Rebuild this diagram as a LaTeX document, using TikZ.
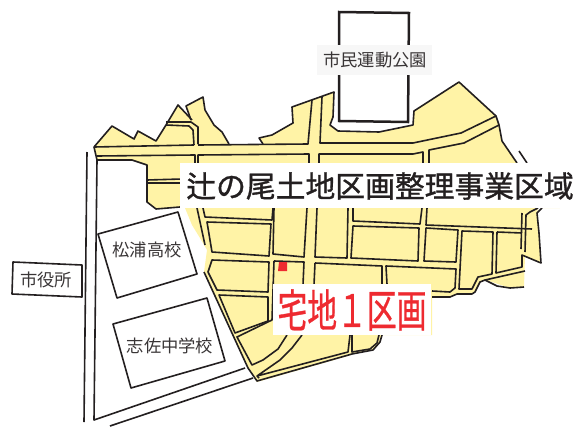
\documentclass[tikz,border=0pt]{standalone}
\usepackage{fontspec}
\usepackage{graphicx}
\setmainfont{Noto Sans CJK JP}
\newfontfamily\titlefont[FakeBold=1.1]{Noto Sans CJK JP}
\newfontfamily\lotfont[FakeBold=0.7]{Noto Sans CJK JP}
\definecolor{ink}{HTML}{231F20}
\definecolor{landfill}{HTML}{FFF3A6}
\definecolor{redmark}{HTML}{EE2A30}
\tikzset{
  road/.style={draw=ink,line width=1.6pt,line join=round},
  thick road/.style={draw=ink,line width=2.5pt,line join=miter},
  label small/.style={text=ink!90,font=\fontsize{17.3}{18}\selectfont,inner sep=0pt}
}
\begin{document}
\begin{tikzpicture}[x=1pt,y=-1pt]
\useasboundingbox (0,0) rectangle (576,426);
% yellow land
\fill[landfill] (94,147)--(112,126)--(134,139)--(138,131)--(156,141)--(166,125)--(178,105)--(192,120)--(186,106)--(203,97)--(205,110)--(214,125)--(222,132)--(229,144)--(263,144)--(259,138)--(272,135)--(293,123)--(292,107)--(334,92)--(333,117)--(330,125)--(338,131)--(379,132)--(413,125)--(414,111)--(459,82)--(496,116)--(499,125)--(502,141)--(517,163)--(560,163)--(560,208)--(538,208)--(537,213)--(539,233)--(541,263)--(525,256)--(524,287)--(510,288)--(486,280)--(480,282)--(475,292)--(472,294)--(457,294)--(450,297)--(432,297)--(432,335)--(382,335)--(380,342)--(373,350)--(352,354)--(348,356)--(257,382)--(248,368)--(204,272)--(207,250)--(200,238)--(192,225)--(185,208)--(180,207)--(156,209)--(147,202)--(147,165)--(132,160)--(97,160)--cycle;
% north edge
\draw[road] (94,147)--(112,126)--(134,139)--(138,131)--(156,141)--(166,125)--(178,105)--(192,120);
\draw[road] (191,120)--(186,106)--(203,97)--(205,110)--(214,125)--(222,132)--(229,144);
\draw[road] (263,144)--(259,138)--(272,135)--(293,123)--(292,107)--(334,92)--(333,117)--(330,125)--(338,131)--(379,132)--(413,125)--(414,111)--(459,82)--(496,116)--(499,125)--(502,141)--(517,163);
\draw[road] (519,151)--(527,163);
% small inner north lines
\draw[road] (166,122)--(191,122)--(198,127)--(198,144);
\draw[road] (166,125)--(189,126)--(193,130)--(194,145);
% northern main road
\draw[road] (94,147)--(194,145);
\draw[road] (198,145)--(308,144)--(312,100);
\draw[road] (322,97)--(320,143)--(413,143)--(461,133)--(496,116);
\draw[road] (94,147)--(97,160)--(132,160)--(147,165)--(147,202)--(156,209)--(180,207);
\draw[road] (97,156)--(195,155)--(195,164);
\draw[road] (198,164)--(198,155)--(309,154)--(309,164);
\draw[road] (319,164)--(319,154)--(413,154)--(423,152)--(423,164);
\draw[road] (429,164)--(429,150)--(464,143)--(499,125);
\draw[road] (147,180)--(182,179);
\draw[road] (147,183)--(182,183);
% blocks
\draw[road] (203,208)--(205,217)--(272,220)--(273,208);
\draw[road] (207,222)--(271,224)--(269,256)--(212,252)--cycle;
\draw[road] (274,208)--(273,254)--(304,257)--(307,208);
\draw[road] (317,208)--(315,257)--(347,258)--(348,208);
\draw[road] (353,208)--(353,221)--(420,224)--(422,208);
\draw[road] (353,226)--(419,228)--(418,261)--(351,258)--cycle;
\draw[road] (427,208)--(426,225)--(532,229);
\draw[road] (426,228)--(458,230)--(456,262)--(424,261)--cycle;
\draw[road] (462,231)--(493,232)--(492,274)--(478,277)--(472,289)--(459,289)--cycle;
\draw[road] (497,232)--(522,233);
\draw[road] (497,232)--(496,273)--(522,267)--(522,255)--(541,263)--(539,233)--(537,213)--(542,208);
\draw[road] (521,249)--(522,213);
\draw[road] (525,252)--(526,215)--(530,212)--(538,208);
% south-east edge
\draw[road] (525,271)--(485,280)--(480,282)--(475,292)--(472,294)--(457,294)--(450,297)--(432,297);
\draw[road] (485,280)--(497,286)--(510,288)--(524,287);
\draw[road] (315,263)--(382,266)--(382,284);
\draw[road] (387,284)--(386,266)--(456,269)--(455,288)--(450,292)--(432,291);
% lower left blocks
\draw[road] (212,260)--(269,262)--(268,292)--(217,290)--(208,272)--cycle;
\draw[road] (219,295)--(268,297)--(268,321)--(235,333)--cycle;
\draw[road] (274,261)--(304,262)--(303,285);
\draw[road] (274,261)--(272,320)--(237,337)--(252,365)--(263,360)--(278,349)--(287,335);
\draw[road] (315,263)--(314,285);
\draw[road] (302,335)--(292,348)--(280,360)--(257,376)--(348,352)--(350,335);
\draw[road] (352,335)--(352,352)--(370,349)--(377,343)--(379,335);
\draw[road] (382,335)--(380,342)--(373,350)--(352,354)--(257,381)--(248,368)--(204,272);
\draw[road] (257,376)--(259,378);
\draw[road] (197,208)--(205,245);
% west roads
\draw[road] (87,152)--(84,422);
\draw[road] (97,160)--(94,420)--(245,368);
\draw[road] (110,426)--(253,378);
% schools
\draw[road] (98,234)--(178,212)--(197,274)--(117,298)--cycle;
\draw[road] (113,324)--(207,298)--(225,361)--(131,388)--cycle;
\draw[road] (13,262)--(82,265)--(82,297)--(12,294)--cycle;
% park
\draw[thick road,fill=white] (339,12)--(409,13)--(408,122)--(339,121)--cycle;
% marker
\fill[redmark] (279,262)--(287,262)--(287,271)--(278,271)--cycle;
% labels
\fill[white] (180,163) rectangle (576,208);
\fill[white] (273,284) rectangle (431,335);
\fill[black!3] (317,45) rectangle (432,75);
\node[inner sep=0pt,text=ink] (title) at (380,186) {\titlefont\fontsize{29.8}{31}\selectfont 辻の尾土地区画整理事業区域};
\node[inner sep=0pt,text=redmark] (lot) at (352,310) {\scalebox{1}[1.5]{\lotfont\fontsize{29.8}{31}\selectfont 宅地１区画}};
\node[label small] (park) at (375,60) {市民運動公園};
\node[label small] (hall) at (46,280) {市役所};
\node[label small] (school1) at (147,250) {松浦高校};
\node[label small] (school2) at (170,346) {志佐中学校};
\end{tikzpicture}
\end{document}
